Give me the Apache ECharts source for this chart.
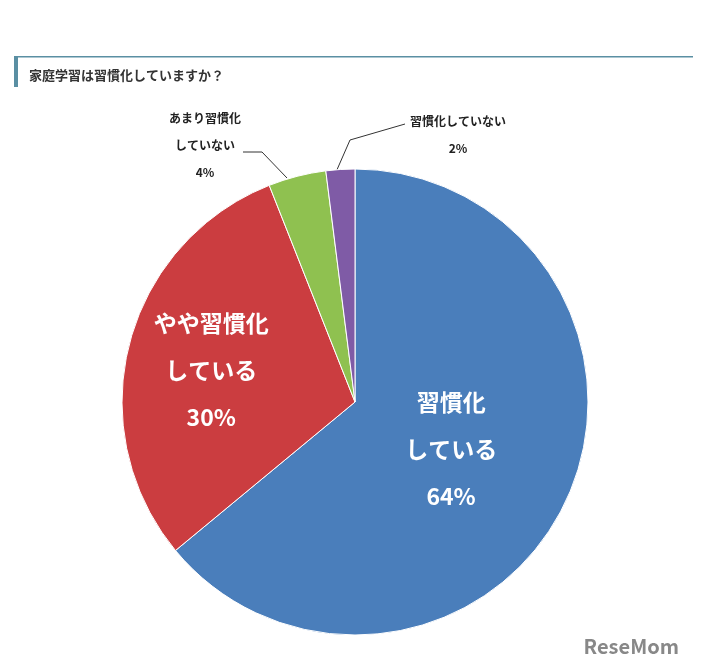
<!DOCTYPE html>
<html><head><meta charset="utf-8">
<script src="https://cdn.jsdelivr.net/npm/echarts@6/dist/echarts.min.js"></script>
<style>html,body{margin:0;padding:0;background:#fff}#chart{width:707px;height:670px}</style>
</head><body><div id="chart"></div>
<script>
var categories = ["習慣化\nしている", "やや習慣化\nしている", "あまり習慣化\nしていない", "習慣化していない"];
var values = [64, 30, 4, 2];
var colors = ["#4a7ebb", "#cb3d40", "#8fc150", "#7f5ba6"];

var chart = echarts.init(document.getElementById('chart'));
var font = '"Noto Sans CJK JP", sans-serif';
var data = categories.map(function (c, i) {
    var d = { name: c, value: values[i], itemStyle: { color: colors[i] } };
    if (i < 2) {
        d.label = { position: 'inside', color: '#fff', fontSize: 23, fontWeight: 'bold', lineHeight: 47,
            formatter: '{b}\n{c}%' };
        d.labelLine = { show: false };
    } else {
        d.label = { position: 'outside', color: '#222', fontSize: 12, fontWeight: 'bold', lineHeight: 27,
            formatter: '{b}\n{c}%' };
        d.labelLine = { show: true, lineStyle: { color: '#333', width: 1 } };
    }
    return d;
});
chart.setOption({
    textStyle: { fontFamily: font },
    title: { text: '家庭学習は習慣化していますか？', left: 24, top: 64,
        textStyle: { fontSize: 13, fontWeight: 'bold', color: '#333', fontFamily: font } },
    graphic: [
        { type: 'rect', shape: { x: 14, y: 56, width: 679, height: 1.5 }, style: { fill: '#5a8fa3' } },
        { type: 'rect', shape: { x: 14, y: 56, width: 4, height: 31 }, style: { fill: '#5a8fa3' } },
        { type: 'text', right: 28, bottom: 14, style: { text: 'ReseMom', fill: '#888', fontSize: 20, fontWeight: 'bold', fontFamily: font } }
    ],
    series: [{
        type: 'pie',
        center: [355, 402],
        radius: 233,
        startAngle: 90,
        clockwise: true,
        animation: false,
        itemStyle: { borderColor: '#fff', borderWidth: 1 },
        labelLayout: function (p) {
            if (p.dataIndex === 0) return { dx: -12, dy: -4 };
            if (p.dataIndex === 1) return { dx: -28, dy: -2 };
            if (p.dataIndex === 2) return { x: 205, y: 145, align: 'center', verticalAlign: 'middle',
                labelLinePoints: [[287, 178], [262, 152], [243, 152]] };
            if (p.dataIndex === 3) return { x: 458, y: 135, align: 'center', verticalAlign: 'middle',
                labelLinePoints: [[336, 172], [350, 140], [405, 124]] };
        },
        data: data
    }]
});
</script></body></html>
